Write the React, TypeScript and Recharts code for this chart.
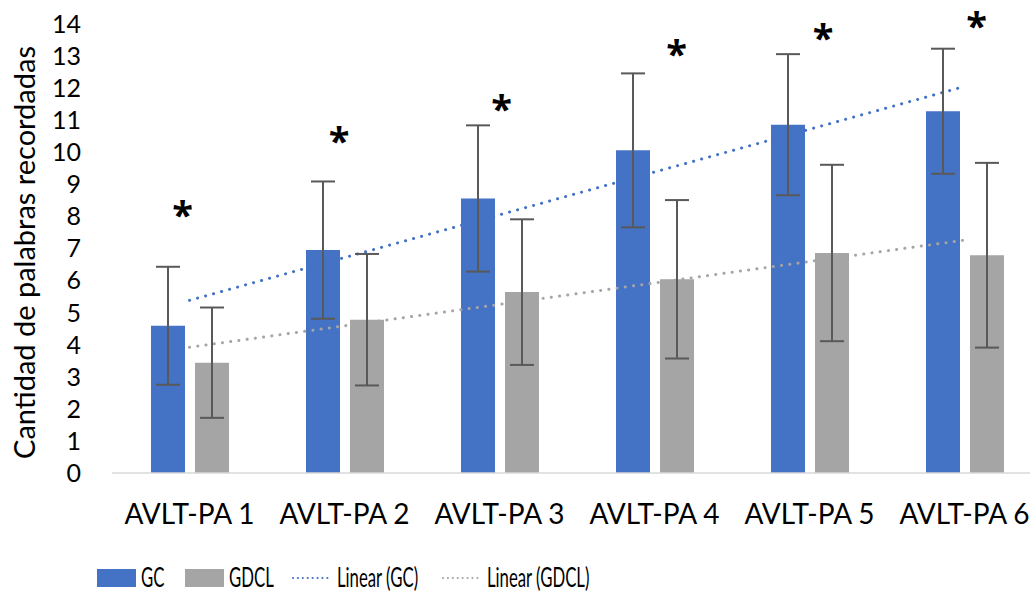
import React from 'react';
import { ComposedChart, Bar, Line, XAxis, YAxis, ErrorBar, LabelList, Legend, Label } from 'recharts';

const categories = ['AVLT-PA 1', 'AVLT-PA 2', 'AVLT-PA 3', 'AVLT-PA 4', 'AVLT-PA 5', 'AVLT-PA 6'];
const gcMeans = [4.59, 6.95, 8.56, 10.06, 10.86, 11.28];
const gcSD = [1.84, 2.14, 2.28, 2.4, 2.2, 1.95];
const gdclMeans = [3.44, 4.78, 5.64, 6.04, 6.86, 6.79];
const gdclSD = [1.72, 2.05, 2.27, 2.47, 2.75, 2.88];
const significance = ['*', '*', '*', '*', '*', '*'];
const starLevels = [8.3, 10.6, 11.6, 13.32, 13.82, 14.2];
const yTicks = [0, 1, 2, 3, 4, 5, 6, 7, 8, 9, 10, 11, 12, 13, 14];

// horizontal nudges of the manually placed significance marks (px, relative to GC bar centre)
const starOffsetX = [14.5, 16, 23.5, 43.5, 35, 33.5];

const BLUE = '#4472C4';
const GRAY = '#A5A5A5';
const FONT = "Lato, 'Open Sans', sans-serif";

// Excel "Linear" trendline: least squares fit over category index 1..n
function linearTrend(values: number[]): number[] {
  const n = values.length;
  const xs = values.map((_, i) => i + 1);
  const mx = xs.reduce((a, b) => a + b, 0) / n;
  const my = values.reduce((a, b) => a + b, 0) / n;
  let num = 0;
  let den = 0;
  for (let i = 0; i < n; i++) {
    num += (xs[i] - mx) * (values[i] - my);
    den += (xs[i] - mx) * (xs[i] - mx);
  }
  const slope = num / den;
  const intercept = my - slope * mx;
  return xs.map((x) => intercept + slope * x);
}

const gcTrend = linearTrend(gcMeans);
const gdclTrend = linearTrend(gdclMeans);

const data = categories.map((name, i) => ({
  name,
  gc: gcMeans[i],
  gcErr: gcSD[i],
  gdcl: gdclMeans[i],
  gdclErr: gdclSD[i],
  gcTrend: gcTrend[i],
  gdclTrend: gdclTrend[i],
  star: starLevels[i],
}));

const renderStar = (props: any) => {
  const vb = props.viewBox || props;
  const idx = props.index ?? 0;
  const x = Number(vb.x);
  const y = Number(vb.y);
  const w = Number(vb.width);
  const h = Number(vb.height);
  const pxPerUnit = h / gcMeans[idx];
  const baseY = y + h;
  const cy = baseY - starLevels[idx] * pxPerUnit;
  const cx = x + w / 2 + starOffsetX[idx];
  const fs = 38;
  return (
    <text
      key={`star-${idx}`}
      x={cx}
      y={cy + 0.58 * fs}
      textAnchor="middle"
      fontSize={fs}
      fontWeight="bold"
      fontFamily="'Open Sans', sans-serif"
      fill="#000"
    >
      {significance[idx]}
    </text>
  );
};

const YLabel = (props: any) => {
  const vb = props.viewBox;
  const cx = 23;
  const cy = vb.y + vb.height / 2 + 4;
  return (
    <text
      x={cx}
      y={cy}
      transform={`rotate(-90, ${cx}, ${cy})`}
      textAnchor="middle"
      dominantBaseline="central"
      fontSize={29}
      fontFamily={FONT}
      fill="#000"
    >
      Cantidad de palabras recordadas
    </text>
  );
};

const LegendText = ({ x, children }: { x: number; children: string }) => (
  <text
    transform={`translate(${x}, 40.5) scale(0.62, 1)`}
    fontSize={27}
    fontFamily={FONT}
    fill="#000"
  >
    {children}
  </text>
);

const LegendContent = () => (
  <svg width={640} height={46} style={{ display: 'block', overflow: 'visible' }}>
    <rect x={97} y={23} width={39} height={18} fill={BLUE} />
    <LegendText x={141}>GC</LegendText>
    <rect x={185} y={23} width={39} height={18} fill={GRAY} />
    <LegendText x={229}>GDCL</LegendText>
    <line x1={293} x2={332} y1={32} y2={32} stroke={BLUE} strokeWidth={2.2} strokeDasharray="0.01 4.9" strokeLinecap="round" />
    <LegendText x={337}>Linear (GC)</LegendText>
    <line x1={443} x2={482} y1={32} y2={32} stroke={GRAY} strokeWidth={2.2} strokeDasharray="0.01 4.9" strokeLinecap="round" />
    <LegendText x={487}>Linear (GDCL)</LegendText>
  </svg>
);

export default function App() {
  return (
    <div
      style={{
        position: 'fixed',
        left: 0,
        top: 0,
        width: 1030,
        height: 592,
        overflow: 'hidden',
        background: '#fff',
      }}
    >
      <ComposedChart
        width={1045}
        height={592}
        data={data}
        margin={{ top: 24, right: 3, left: 0, bottom: 0 }}
        barSize={34}
        barGap={10}
        style={{ fontFamily: FONT }}
      >
        <XAxis
          dataKey="name"
          height={73}
          interval={0}
          tickLine={false}
          tickMargin={25}
          axisLine={{ stroke: '#D9D9D9', strokeWidth: 1.5 }}
          tick={{ fontSize: 28, fill: '#000', fontFamily: FONT }}
        />
        <YAxis
          width={112}
          domain={[0, 14]}
          ticks={yTicks}
          interval={0}
          axisLine={false}
          tickLine={false}
          tickMargin={25}
          tick={{ fontSize: 25, fill: '#000', fontFamily: FONT }}
        >
          <Label content={YLabel} />
        </YAxis>
        <Legend verticalAlign="bottom" align="left" content={LegendContent} />
        <Line
          dataKey="gcTrend"
          type="linear"
          stroke={BLUE}
          strokeWidth={3}
          strokeDasharray="0.1 8.2"
          strokeLinecap="round"
          dot={false}
          activeDot={false}
          isAnimationActive={false}
          legendType="none"
        />
        <Line
          dataKey="gdclTrend"
          type="linear"
          stroke={GRAY}
          strokeWidth={3}
          strokeDasharray="0.1 8.2"
          strokeLinecap="round"
          dot={false}
          activeDot={false}
          isAnimationActive={false}
          legendType="none"
        />
        <Bar dataKey="gc" fill={BLUE} isAnimationActive={false}>
          <ErrorBar dataKey="gcErr" width={12} stroke="#595959" strokeWidth={2} />
          <LabelList dataKey="star" content={renderStar} />
        </Bar>
        <Bar dataKey="gdcl" fill={GRAY} isAnimationActive={false}>
          <ErrorBar dataKey="gdclErr" width={12} stroke="#595959" strokeWidth={2} />
        </Bar>
      </ComposedChart>
    </div>
  );
}
